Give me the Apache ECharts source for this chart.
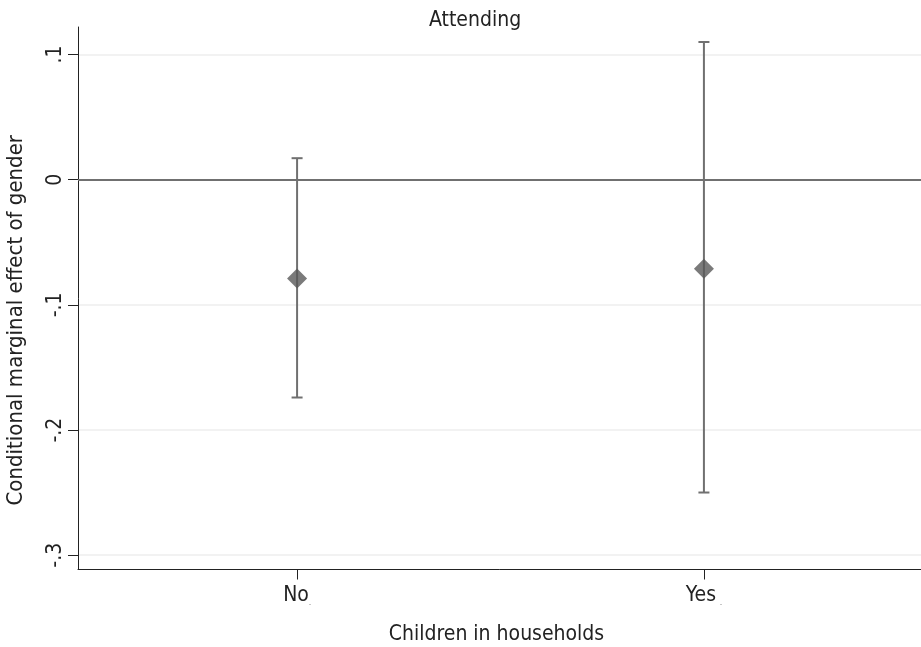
<!DOCTYPE html>
<html><head><meta charset="utf-8">
<script src="https://cdn.jsdelivr.net/npm/echarts@6/dist/echarts.min.js"></script>
<style>html,body{margin:0;padding:0;background:#fff}#c{width:921px;height:647px}</style>
</head><body><div id="c"></div>
<script>
const categories = ['No', 'Yes'];
const estimates = [-0.079, -0.0712];
const ciLower = [-0.174, -0.2499];
const ciUpper = [0.0172, 0.110];
const yTicks = [-0.3, -0.2, -0.1, 0, 0.1];
const title = 'Attending';
const xTitle = 'Children in households';
const yTitle = 'Conditional marginal effect of gender';

const FONT = '"DejaVu Sans Condensed", "DejaVu Sans", sans-serif';
const FS = 21;
const TXT = '#222';
const chart = echarts.init(document.getElementById('c'));
const pts = categories.map((c, i) => [i, estimates[i]]);
const bars = categories.map((c, i) => [i, ciLower[i], ciUpper[i]]);
function fmtY(v) {
  let s = (Math.round(v * 10) / 10).toFixed(1);
  if (s === '0.0' || s === '-0.0') return '0';
  return s.replace('0.', '.');
}
chart.setOption({
  animation: false,
  title: { text: title, left: 424, top: 5, textStyle: { fontFamily: FONT, fontSize: FS, fontWeight: 'normal', color: TXT } },
  grid: { left: 78, top: 27, right: -2, bottom: 77.5, containLabel: false, outerBoundsMode: 'none' },
  xAxis: {
    type: 'value', min: -0.5385, max: 1.5385,
    name: xTitle, nameLocation: 'middle', nameGap: 55,
    nameTextStyle: { fontFamily: FONT, fontSize: FS, color: TXT, padding: [0, 8, 0, 0] },
    axisLine: { show: true, onZero: false, lineStyle: { color: '#222', width: 1 } },
    axisTick: { show: true, length: 10, customValues: [0, 1], lineStyle: { color: '#222' } },
    axisLabel: { customValues: [0, 1], margin: 16, fontFamily: FONT, fontSize: FS, color: TXT,
      formatter: v => '{a|' + categories[Math.round(v)] + '}{b|' + (Math.round(v) === 1 ? '  .' : '.') + '}',
      rich: { a: { fontFamily: FONT, fontSize: FS, color: TXT }, b: { fontFamily: FONT, fontSize: 7, color: TXT, verticalAlign: 'bottom', padding: [12, 0, 0, 0] } } },
    splitLine: { show: false }
  },
  yAxis: {
    type: 'value', min: -0.3114, max: 0.122,
    name: yTitle, nameLocation: 'middle', nameGap: 51,
    nameTextStyle: { fontFamily: FONT, fontSize: 22, color: TXT, padding: [0, 44, 0, 0] },
    axisLine: { show: true, onZero: false, lineStyle: { color: '#222', width: 1 } },
    axisTick: { show: true, length: 10, customValues: yTicks, lineStyle: { color: '#222' } },
    axisLabel: { customValues: yTicks, rotate: 90, margin: 12, fontFamily: FONT, fontSize: FS, color: TXT, formatter: fmtY },
    splitLine: { show: true, lineStyle: { color: '#eeeeee', width: 1.5 } }
  },
  series: [
    {
      type: 'custom',
      data: bars,
      z: 3,
      renderItem: function (params, api) {
        const x = api.value(0);
        const lo = api.coord([x, api.value(1)]);
        const hi = api.coord([x, api.value(2)]);
        const cap = 5.5;
        const st = { stroke: '#707070', lineWidth: 2 };
        return { type: 'group', children: [
          { type: 'line', shape: { x1: lo[0], y1: lo[1], x2: hi[0], y2: hi[1] }, style: st },
          { type: 'line', shape: { x1: lo[0] - cap, y1: lo[1], x2: lo[0] + cap, y2: lo[1] }, style: st },
          { type: 'line', shape: { x1: hi[0] - cap, y1: hi[1], x2: hi[0] + cap, y2: hi[1] }, style: st }
        ] };
      }
    },
    {
      type: 'scatter', data: pts, symbol: 'diamond', symbolSize: [20, 20], z: 4,
      itemStyle: { color: '#595959' },
      markLine: { silent: true, symbol: 'none', label: { show: false },
        lineStyle: { color: '#707070', width: 2, type: 'solid' },
        data: [{ yAxis: 0 }] }
    }
  ]
});
</script></body></html>
